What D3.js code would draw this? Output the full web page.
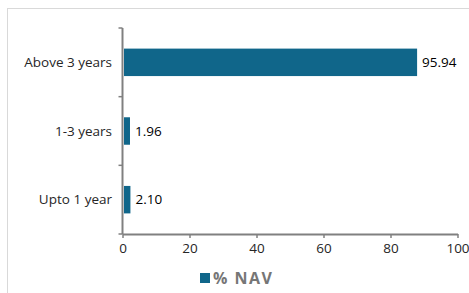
<!DOCTYPE html>
<html>
<head>
<meta charset="utf-8">
<script src="https://cdn.jsdelivr.net/npm/d3@7"></script>
<style>
  body { margin: 0; background: #fff; }
  svg { display: block; font-family: "Open Sans", sans-serif; }
</style>
</head>
<body>
<script>
// Data
const categories = ["Above 3 years", "1-3 years", "Upto 1 year"];
const navValues = [95.94, 1.96, 2.10];
const tickValues = [0, 20, 40, 60, 80, 100];
const seriesName = "% NAV";

const width = 469, height = 293;
const barColor = "#10668a";
const axisColor = "#808080";

const svg = d3.select("body").append("svg")
    .attr("width", width)
    .attr("height", height);

// Outer frame
svg.append("rect")
    .attr("x", 7.5).attr("y", 8.5)
    .attr("width", 480).attr("height", 300)
    .attr("fill", "none")
    .attr("stroke", "#d9d9d9");

// Scales
const y = d3.scaleBand()
    .domain(categories)
    .range([28, 234])
    .paddingInner(0.6)
    .paddingOuter(0.3);

// bars are drawn on their own scale, the axis labels on a slightly wider one
const xBar = d3.scaleLinear().domain([0, 100]).range([124, 429.5]);
const xAxis = d3.scaleLinear().domain([0, 100]).range([122.5, 457.5]);

// Y axis
const yAxisG = svg.append("g").attr("transform", "translate(122.5,0)");
yAxisG.append("line")
    .attr("y1", 28).attr("y2", 234)
    .attr("stroke", axisColor).attr("stroke-width", 2);
const bandEdges = [28].concat(categories.map(c => y(c) + y.bandwidth() + y.step() * y.paddingInner() / 2));
yAxisG.selectAll(".ytick")
    .data(bandEdges)
    .join("line")
    .attr("x1", -4).attr("x2", 0)
    .attr("y1", d => d).attr("y2", d => d)
    .attr("stroke", axisColor).attr("stroke-width", 1.5);

svg.append("g")
    .selectAll("text")
    .data(categories)
    .join("text")
    .attr("x", 112)
    .attr("y", d => y(d) + y.bandwidth() / 2)
    .attr("dy", "0.35em")
    .attr("text-anchor", "end")
    .attr("font-size", 13.5)
    .attr("fill", "#262626")
    .text(d => d);

// X axis
const xg = svg.append("g")
    .attr("transform", "translate(0,234)")
    .call(d3.axisBottom(xAxis).tickValues(tickValues).tickSize(4).tickSizeOuter(0));
xg.select(".domain").attr("stroke", axisColor).attr("stroke-width", 2);
xg.selectAll(".tick line").attr("stroke", axisColor).attr("stroke-width", 1.5);
xg.selectAll(".tick text")
    .attr("font-family", "Open Sans, sans-serif")
    .attr("font-size", 13.5)
    .attr("fill", "#262626")
    .attr("y", 9);

// Bars
const rows = categories.map((c, i) => ({ category: c, value: navValues[i] }));

svg.append("g")
    .selectAll("rect")
    .data(rows)
    .join("rect")
    .attr("x", xBar(0))
    .attr("y", d => y(d.category))
    .attr("width", d => xBar(d.value) - xBar(0))
    .attr("height", y.bandwidth())
    .attr("fill", barColor);

svg.append("g")
    .selectAll("text")
    .data(rows)
    .join("text")
    .attr("x", d => xBar(d.value) + 5)
    .attr("y", d => y(d.category) + y.bandwidth() / 2)
    .attr("dy", "0.35em")
    .attr("font-size", 13.5)
    .attr("fill", "#000")
    .text(d => d.value.toFixed(2));

// Legend
const legend = svg.append("g").attr("transform", "translate(200,273)");
legend.append("rect")
    .attr("width", 10).attr("height", 10)
    .attr("fill", barColor);
legend.append("text")
    .attr("x", 13).attr("y", 10.5)
    .attr("font-size", 16)
    .attr("font-weight", "bold")
    .attr("letter-spacing", 1.5)
    .attr("fill", "#767676")
    .text(seriesName);
</script>
</body>
</html>
